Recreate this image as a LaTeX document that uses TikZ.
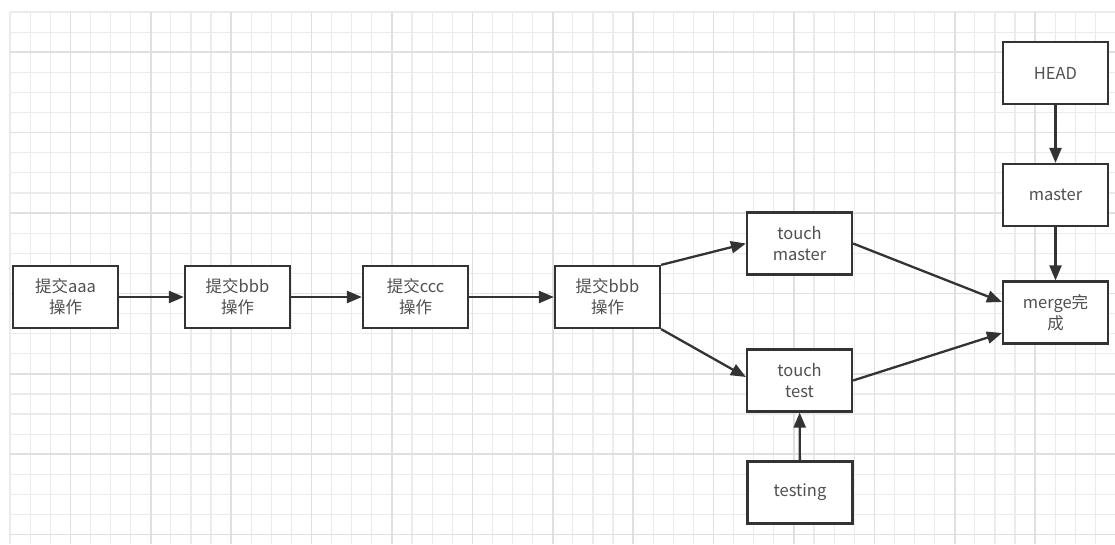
\documentclass[tikz,border=0pt]{standalone}
\usepackage{fontspec}
\setmainfont{Noto Sans CJK SC}
\usetikzlibrary{arrows.meta}
\definecolor{gridminor}{HTML}{EBEBEB}
\definecolor{gridmajor}{HTML}{E0E0E0}
\definecolor{boxline}{HTML}{333333}
\definecolor{txt}{HTML}{505050}
\begin{document}
\begin{tikzpicture}[x=1pt,y=-1pt,
  box/.style={draw=boxline,line width=2.2pt,fill=white,minimum width=105pt,minimum height=62pt,
    inner sep=0pt,align=center,text=txt,font=\fontsize{16.5}{21}\selectfont},
  conn/.style={draw=boxline,line width=2.3pt,-{Triangle[length=15pt,width=12pt]}}]
\fill[white] (0,0) rectangle (1115,544);
\useasboundingbox (0,0) rectangle (1115,544);
% grid
\foreach \i in {0,...,55}{\draw[gridminor,line width=1.2pt] ({10+20.1*\i},12) -- ({10+20.1*\i},544);}
\foreach \j in {0,...,26}{\draw[gridminor,line width=1.2pt] (10,{12+20.1*\j}) -- (1115,{12+20.1*\j});}
\foreach \i in {3,7,...,55}{\draw[gridmajor,line width=1.6pt] ({10+20.1*\i},12) -- ({10+20.1*\i},544);}
\foreach \j in {2,6,...,26}{\draw[gridmajor,line width=1.6pt] (10,{12+20.1*\j}) -- (1115,{12+20.1*\j});}
% nodes
\node[box] (a) at (65.5,297) {提交aaa\\操作};
\node[box] (b) at (237.5,297) {提交bbb\\操作};
\node[box] (c) at (415.5,297) {提交ccc\\操作};
\node[box] (d) at (607.5,297) {提交bbb\\操作};
\node[box] (tm) at (799.5,243.5) {touch\\master};
\node[box] (tt) at (799.5,380.5) {touch\\test};
\node[box] (testing) at (800,492.5) {testing};
\node[box] (head) at (1055.5,73) {HEAD};
\node[box] (master) at (1055.5,195) {master};
\node[box] (merge) at (1055.5,312.5) {merge完\\成};
% connectors
\draw[conn] (a) -- (b);
\draw[conn] (b) -- (c);
\draw[conn] (c) -- (d);
\draw[conn] (d.north east) -- (tm.west);
\draw[conn] (d.south east) -- ([yshift=3.5pt]tt.west);
\draw[conn] (tm.east) -- ([yshift=10.5pt]merge.west);
\draw[conn] (tt.east) -- ([yshift=-20.5pt]merge.west);
\draw[conn] (testing) -- (tt);
\draw[conn] (head) -- (master);
\draw[conn] (master) -- (merge);
\end{tikzpicture}
\end{document}
